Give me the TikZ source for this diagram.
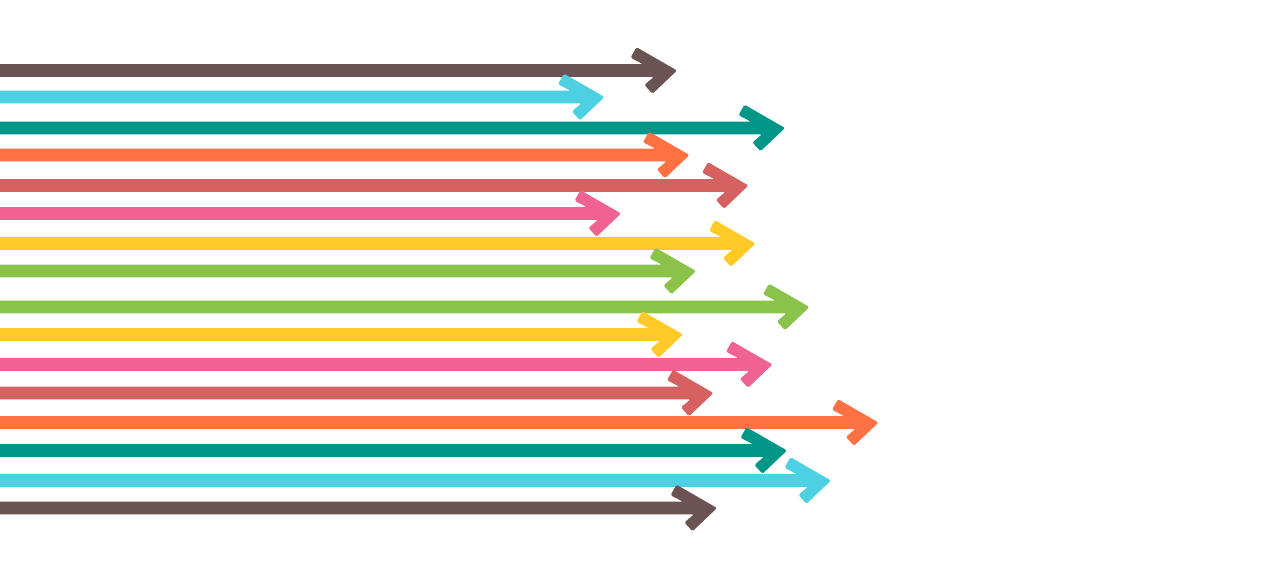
\documentclass[tikz,border=0pt]{standalone}
\usepackage[svgnames]{xcolor}
\usepackage{tikz}
\definecolor{arrbrown}{HTML}{6B5353}
\definecolor{arrcyan}{HTML}{4DD0E1}
\definecolor{arrteal}{HTML}{009688}
\definecolor{arrorange}{HTML}{FF7043}
\definecolor{arrred}{HTML}{D56160}
\definecolor{arrpink}{HTML}{F06292}
\definecolor{arryellow}{HTML}{FFCA28}
\definecolor{arrgreen}{HTML}{8BC34A}

\begin{document}
\begin{tikzpicture}[x=1pt,y=-1pt]
   \useasboundingbox[fill=white] (0,0) rectangle (1280,570);
   \tikzstyle{arrow}=[rounded corners=1.5pt]
   % shaft from the left border, chevron head at the tip
   \foreach \i/\x/\y/\col in {1/677/70.5/arrbrown, 2/604.5/97/arrcyan, 3/785/128/arrteal,
       4/689.5/155/arrorange, 5/748.5/185.5/arrred, 6/621/213.5/arrpink,
       7/755.5/243.5/arryellow, 8/696/271/arrgreen, 9/809.5/307/arrgreen,
       10/683/334.5/arryellow, 11/772.5/364.5/arrpink, 12/713.5/393/arrred,
       13/878.5/422.5/arrorange, 14/787/450.5/arrteal, 15/831/480.5/arrcyan,
       16/717/508/arrbrown} {
       \coordinate (tail\i) at (-5,\y);
       \coordinate (tip\i) at (\x,\y);
       \fill[arrow,\col] ([shift={(0,-6.3)}]tail\i) -- ([shift={(-34,-6.3)}]tip\i)
           -- ([shift={(-46.5,-12.8)}]tip\i) -- ([shift={(-40.5,-23.3)}]tip\i) -- (tip\i)
           -- ([shift={(-24.5,23.3)}]tip\i) -- ([shift={(-32.6,14.4)}]tip\i)
           -- ([shift={(-23,6.3)}]tip\i) -- ([shift={(0,6.3)}]tail\i) -- cycle;
   }
\end{tikzpicture}
\end{document}
